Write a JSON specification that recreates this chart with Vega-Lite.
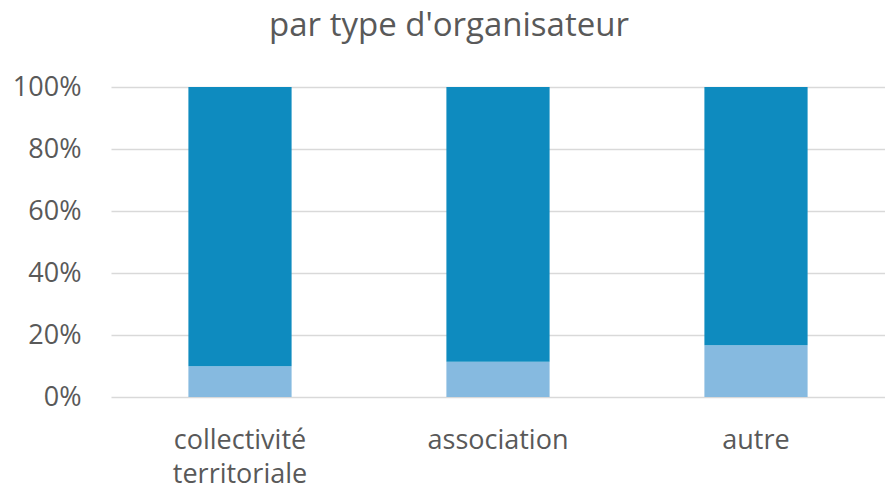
{
  "$schema": "https://vega.github.io/schema/vega-lite/v6.json",
  "autosize": "none",
  "width": 774,
  "height": 310,
  "padding": {"left": 111, "top": 87, "right": 0, "bottom": 94},
  "background": "white",
  "title": {
    "text": "par type d'organisateur",
    "font": "Open Sans",
    "fontSize": 33,
    "fontWeight": "normal",
    "color": "#595959",
    "anchor": "middle",
    "frame": "group",
    "dx": -49,
    "offset": 30
  },
  "data": {
    "values": [
      {"organisateur": "collectivité territoriale", "part": "bas", "ordre": 1, "valeur": 9.9},
      {"organisateur": "collectivité territoriale", "part": "haut", "ordre": 2, "valeur": 90.1},
      {"organisateur": "association", "part": "bas", "ordre": 1, "valeur": 11.4},
      {"organisateur": "association", "part": "haut", "ordre": 2, "valeur": 88.6},
      {"organisateur": "autre", "part": "bas", "ordre": 1, "valeur": 16.7},
      {"organisateur": "autre", "part": "haut", "ordre": 2, "valeur": 83.3}
    ]
  },
  "mark": {"type": "bar"},
  "encoding": {
    "x": {
      "field": "organisateur",
      "type": "nominal",
      "sort": null,
      "scale": {"paddingInner": 0.6, "paddingOuter": 0.3},
      "axis": {
        "title": null,
        "labelAngle": 0,
        "domain": false,
        "ticks": false,
        "labelFont": "Open Sans",
        "labelFontSize": 27,
        "labelColor": "#595959",
        "labelPadding": 30,
        "labelLineHeight": 34,
        "labelExpr": "datum.label == 'collectivité territoriale' ? ['collectivité', 'territoriale'] : datum.label"
      }
    },
    "y": {
      "field": "valeur",
      "type": "quantitative",
      "stack": "normalize",
      "scale": {"domain": [0, 1]},
      "axis": {
        "title": null,
        "format": ".0%",
        "values": [0, 0.2, 0.4, 0.6, 0.8, 1],
        "domain": false,
        "ticks": false,
        "gridColor": "#d9d9d9",
        "gridWidth": 1.5,
        "labelFont": "Open Sans",
        "labelFontSize": 27,
        "labelColor": "#595959",
        "labelPadding": 30
      }
    },
    "color": {
      "field": "part",
      "type": "nominal",
      "scale": {"domain": ["bas", "haut"], "range": ["#86BAE0", "#0E8BBF"]},
      "legend": null
    },
    "order": {"field": "ordre", "type": "quantitative"}
  },
  "config": {"view": {"stroke": null}}
}
